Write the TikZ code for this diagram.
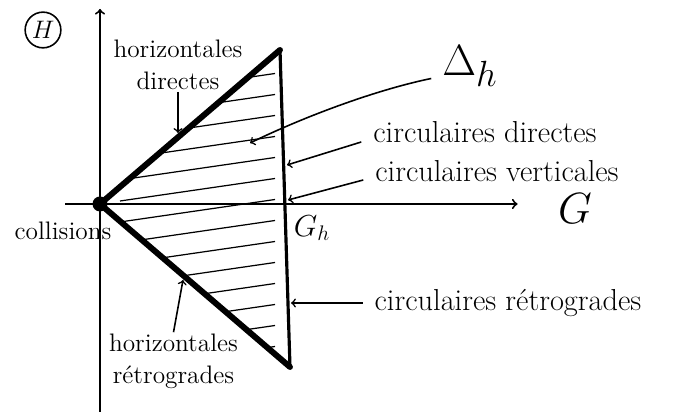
\documentclass[tikz,border=0pt]{standalone}
\begin{document}
\begin{tikzpicture}[
    lbl/.style={inner sep=1pt, font=\LARGE},
    pointer/.style={->, line width=0.9pt},
    axis/.style={->, line width=1.1pt},
    bold edge/.style={line width=3.4pt, line cap=round, line join=round}]
    \useasboundingbox (-2,-4.16) rectangle (11.54,4.08);
    \coordinate (O) at (0,0);
    \coordinate (Hlow) at (0,-4.16);
    \coordinate (Htop) at (0,3.9);
    \coordinate (Gleft) at (-0.7,0);
    \coordinate (Gright) at (8.35,0);
    \coordinate (A) at (3.6,3.08);
    \coordinate (B) at (3.8,-3.26);
    \draw[axis] (Hlow) -- (Htop);
    \draw[axis] (Gleft) -- (Gright);
    \begin{scope}
        \clip (O) -- (A) -- (B) -- cycle;
        \foreach \y in {-3.3,-2.88,...,3.2}
            \draw[line width=0.7pt] (0.4,\y) -- (3.5,{\y+0.45});
    \end{scope}
    \draw[line width=1.8pt, line join=round] (A) -- (B);
    \draw[bold edge] (A) -- (O) -- (B);
    \fill (O) circle (0.15);
    \node[draw, circle, inner sep=1.5pt, line width=0.9pt, font=\Large] (Hname) at (-1.14,3.48) {$H$};
    \node[font=\Huge, inner sep=0pt] (Gname) at (9.5,-0.1) {$G$};
    \node[font=\LARGE] (Ghname) at (4.24,-0.48) {$G_h$};
    \node[font=\Huge] (delta) at (7.4,2.76) {$\Delta_h$};
    \node[lbl, font=\Large] (coll) at (-0.74,-0.54) {collisions};
    \node[lbl, font=\Large, align=center] (hordir) at (1.56,2.78) {horizontales\\directes};
    \node[lbl, font=\Large, align=center] (horret) at (1.47,-3.15) {horizontales\\rétrogrades};
    \node[lbl] (cirdir) at (7.7,1.44) {circulaires directes};
    \node[lbl] (cirver) at (7.94,0.66) {circulaires verticales};
    \node[lbl] (cirret) at (8.16,-1.98) {circulaires rétrogrades};
    \coordinate (hd) at (1.56,1.42);
    \coordinate (hr) at (1.66,-1.52);
    \coordinate (dh) at (3.0,1.22);
    \coordinate (cd) at (3.74,0.78);
    \coordinate (cv) at (3.76,0.08);
    \coordinate (cr) at (3.82,-1.98);
    \draw[pointer] (hordir.south) -- (hd);
    \draw[pointer] (horret.north) -- (hr);
    \draw[pointer] ([xshift=-0.1cm, yshift=-0.25cm]delta.west) .. controls (5.6,2.3) and (4.2,1.8) .. (dh);
    \draw[pointer] ([xshift=-0.2cm, yshift=-0.2cm]cirdir.west) -- (cd);
    \draw[pointer] ([xshift=-0.2cm, yshift=-0.18cm]cirver.west) -- (cv);
    \draw[pointer] ([xshift=-0.2cm]cirret.west) -- (cr);
\end{tikzpicture}
\end{document}
